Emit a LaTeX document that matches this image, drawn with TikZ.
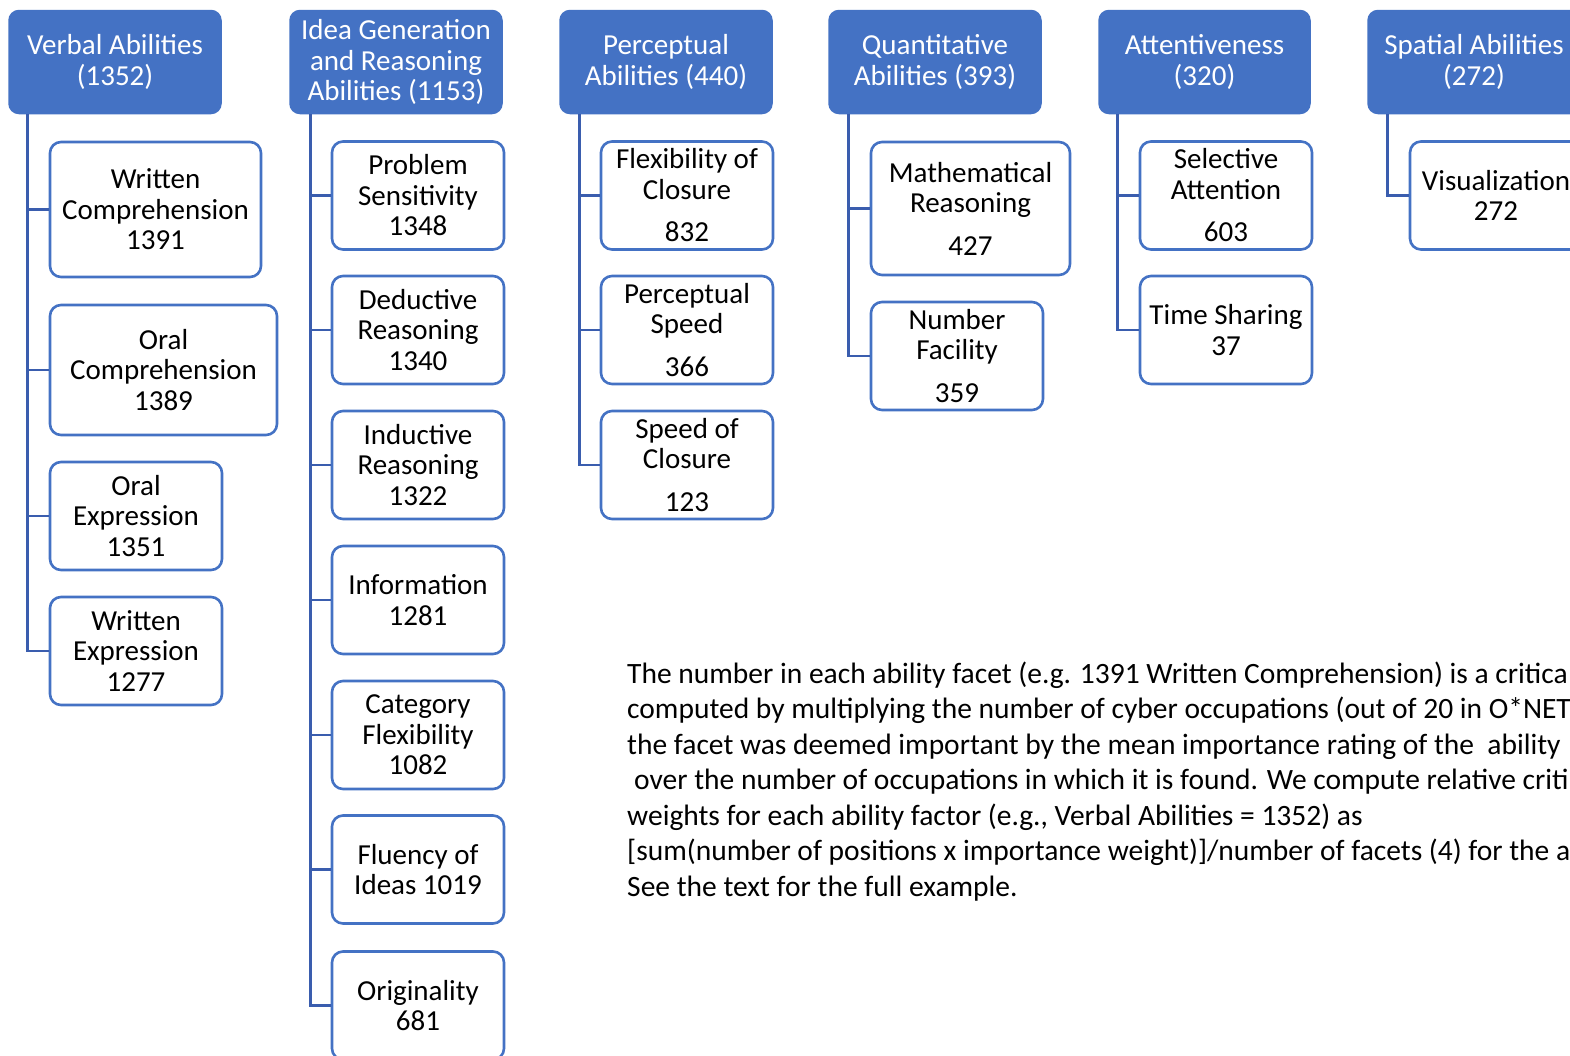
\documentclass[tikz,border=0pt]{standalone}
\usepackage{fontspec}
\setmainfont{Carlito}
\usetikzlibrary{calc}
\definecolor{hdrblue}{HTML}{4472C4}
\definecolor{boxblue}{HTML}{4472C4}
\definecolor{lineblue}{HTML}{3A5DAE}
\tikzset{
  hdr/.style={draw=hdrblue, fill=hdrblue, rounded corners=10pt, line width=1.5pt,
    text=white, align=center, inner sep=0pt, minimum width=212pt, minimum height=103pt,
    font=\fontsize{29}{30.5}\selectfont},
  facet/.style={draw=boxblue, fill=white, rounded corners=11pt, line width=2.6pt,
    text=black, align=center, inner sep=0pt, minimum width=172pt, minimum height=108pt,
    font=\fontsize{29}{30.5}\selectfont},
  conn/.style={draw=lineblue, line width=2.6pt},
  para/.style={anchor=base west, inner sep=0pt, font=\fontsize{29.5}{35.5}\selectfont, text=black}
}
\begin{document}
\begin{tikzpicture}[x=1pt,y=-1pt]
\useasboundingbox (0,0) rectangle (1570,1055);
\clip (0,0) rectangle (1570,1055);
\fill[white] (0,0) rectangle (1570,1055);

% headers
\node[hdr] (hv) at (115,62) {Verbal Abilities\\(1352)};
\node[hdr] (hi) at (396,62) {Idea Generation\\and Reasoning\\Abilities (1153)};
\node[hdr] (hp) at (666,62) {Perceptual\\Abilities (440)};
\node[hdr] (hq) at (935,62) {Quantitative\\Abilities (393)};
\node[hdr, minimum width=211pt] (ha) at (1204.5,62) {Attentiveness\\(320)};
\node[hdr] (hs) at (1474,62) {Spatial Abilities\\(272)};

% verbal facets
\node[facet, minimum width=211pt, minimum height=135pt] (v1) at (155.5,209.5) {Written\\Comprehension\\1391};
\node[facet, minimum width=227pt, minimum height=130pt] (v2) at (163.5,370) {Oral\\Comprehension\\1389};
\node[facet] (v3) at (136,516) {Oral\\Expression\\1351};
\node[facet] (v4) at (136,651) {Written\\Expression\\1277};

% idea facets
\node[facet] (i1) at (418,195.5) {Problem\\Sensitivity\\1348};
\node[facet] (i2) at (418,330) {Deductive\\Reasoning\\1340};
\node[facet] (i3) at (418,465) {Inductive\\Reasoning\\1322};
\node[facet] (i4) at (418,600) {Information\\1281};
\node[facet] (i5) at (418,735) {Category\\Flexibility\\1082};
\node[facet] (i6) at (418,869.5) {Fluency of\\Ideas 1019};
\node[facet] (i7) at (418,1005.5) {Originality\\681};

% perceptual facets
\node[facet] (p1) at (687,195.5) {Flexibility of\\Closure\\[12pt]832};
\node[facet] (p2) at (687,330) {Perceptual\\Speed\\[12pt]366};
\node[facet] (p3) at (687,465) {Speed of\\Closure\\[12pt]123};

% quantitative facets
\node[facet, minimum width=199pt, minimum height=133pt] (q1) at (970.5,208.5) {Mathematical\\Reasoning\\[12pt]427};
\node[facet] (q2) at (957,356) {Number\\Facility\\[12pt]359};

% attentiveness facets
\node[facet] (a1) at (1226,195.5) {Selective\\Attention\\[12pt]603};
\node[facet] (a2) at (1226,330) {Time Sharing\\37};

% spatial facets
\node[facet] (s1) at (1496,195.5) {Visualization\\272};

% connectors
\foreach \c in {v1,v2,v3,v4}{\draw[conn] ($(hv.south west)+(19,0)$) |- (\c.west);}
\foreach \c in {i1,i2,i3,i4,i5,i6,i7}{\draw[conn] ($(hi.south west)+(21,0)$) |- (\c.west);}
\foreach \c in {p1,p2,p3}{\draw[conn] ($(hp.south west)+(20,0)$) |- (\c.west);}
\foreach \c in {q1,q2}{\draw[conn] ($(hq.south west)+(20,0)$) |- (\c.west);}
\foreach \c in {a1,a2}{\draw[conn] ($(ha.south west)+(19,0)$) |- (\c.west);}
\draw[conn] ($(hs.south west)+(20,0)$) |- (s1.west);

% note paragraph
\node[para] (n1) at (627,683) {The number in each ability facet (e.g. 1391 Written Comprehension) is a critica};
\node[para] (n2) at (627,718.5) {computed by multiplying the number of cyber occupations (out of 20 in O*NET};
\node[para] (n3) at (627,754) {the facet was deemed important by the mean importance rating of the \ ability};
\node[para] (n4) at (634,789.5) {over the number of occupations in which it is found. We compute relative criti};
\node[para] (n5) at (627,825) {weights for each ability factor (e.g., Verbal Abilities = 1352) as};
\node[para] (n6) at (627,860.5) {[sum(number of positions x importance weight)]/number of facets (4) for the a};
\node[para] (n7) at (627,896) {See the text for the full example.};
\end{tikzpicture}
\end{document}
